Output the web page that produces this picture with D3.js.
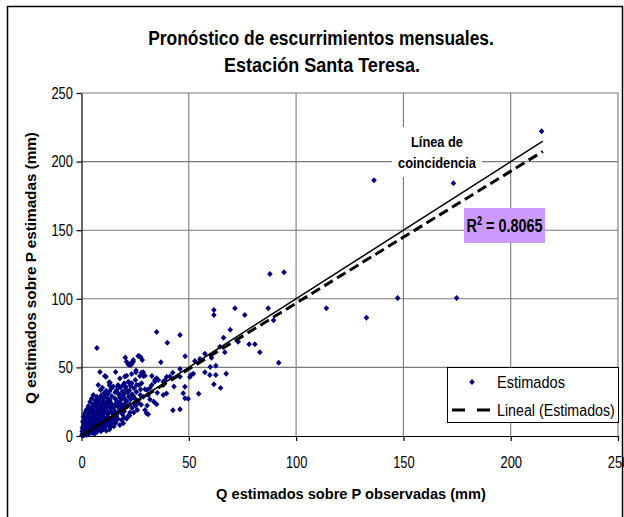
<!DOCTYPE html>
<html lang="es">
  <head>
    <meta charset="UTF-8" />
    <title>Pronóstico de escurrimientos mensuales</title>
    <script src="https://d3js.org/d3.v7.min.js"></script>
    <style>
      body {
        margin: 0;
        background: #fff;
      }
      text {
        font-family: "Liberation Sans", Arial, sans-serif;
        fill: #000;
      }
      .grid line {
        stroke: #7a7a7a;
        stroke-width: 1.1px;
      }
      .axis path,
      .axis line {
        stroke: #000;
        stroke-width: 1.2px;
      }
      .punto {
        fill: #000080;
      }
    </style>
  </head>
  <body>
    <svg width="624" height="517"></svg>

    <script>
      const titulo = ["Pronóstico de escurrimientos mensuales.", "Estación Santa Teresa."];
      const tituloX = "Q estimados sobre P observadas (mm)";
      const tituloY = "Q estimados sobre P estimadas (mm)";
      const xTicks = [0, 50, 100, 150, 200, 250];
      const yTicks = [0, 50, 100, 150, 200, 250];

      // [Q obs, Q est]
      const puntosAltos = [
        [136.3, 186.4], [173.3, 184.2], [214.4, 222.1], [87.8, 118.1], [94.4, 119.3],
        [114.1, 93.1], [132.8, 86.2], [147.3, 100.6], [174.8, 100.6], [91.9, 53.4],
        [87.0, 93.1], [89.5, 84.3], [76.1, 88.2], [71.5, 93.1], [61.7, 91.8],
        [61.7, 88.2], [69.3, 77.5], [66.2, 71.6], [73.0, 68.7], [78.1, 66.8],
        [80.8, 66.8], [83.1, 61.0], [66.8, 61.0], [48.3, 58.1], [60.6, 57.1],
        [57.5, 60.0], [55.2, 56.1], [52.8, 54.7], [60.0, 50.3], [62.6, 51.2],
        [57.5, 46.4], [59.8, 44.5], [62.6, 44.5], [67.4, 45.4], [61.7, 37.7],
        [64.8, 35.0], [54.6, 30.8], [51.0, 44.5], [52.1, 45.4], [50.5, 43.0],
        [49.7, 27.2], [47.4, 31.1], [45.9, 19.5], [45.9, 73.6], [45.9, 43.2],
        [64.5, 65.1]
      ];

      const puntosMedios = [
        [7.2, 64.1], [35.0, 75.8], [40.0, 68.0], [20.4, 57.3], [21.0, 54.2],
        [21.8, 52.2], [23.0, 52.9], [24.1, 55.4], [26.8, 58.3], [28.3, 55.4],
        [37.0, 53.7], [8.6, 46.6], [15.9, 46.6], [10.9, 43.7], [7.8, 37.1],
        [9.7, 35.2], [13.3, 38.9], [13.0, 37.0], [14.8, 36.0], [17.9, 42.0],
        [20.2, 43.3], [21.8, 39.6], [23.4, 45.2], [25.4, 47.7], [28.0, 46.2],
        [28.8, 43.8], [27.2, 43.8], [25.1, 40.9], [22.9, 36.5], [19.5, 37.1],
        [17.0, 37.1], [26.9, 37.1], [29.6, 34.0], [30.6, 33.5], [31.9, 35.0],
        [34.2, 40.9], [35.0, 42.1], [32.8, 43.8], [38.1, 37.1], [39.6, 31.0],
        [35.3, 31.5], [31.9, 26.6], [33.7, 24.9], [35.0, 23.2], [30.6, 22.3],
        [30.3, 16.5], [26.0, 18.9], [24.4, 17.2], [21.8, 14.8], [18.7, 11.7],
        [19.5, 9.3], [17.9, 8.1], [42.6, 18.7], [43.1, 36.1], [41.2, 43.3],
        [38.9, 40.9], [31.1, 29.8], [28.8, 28.6], [26.5, 24.2], [24.4, 23.7],
        [22.6, 23.2], [20.1, 23.7], [17.1, 31.0], [15.6, 27.4], [13.3, 26.2],
        [11.7, 25.0], [10.9, 28.6], [8.9, 33.5], [7.1, 28.6], [5.5, 29.8],
        [4.7, 27.4], [4.0, 25.0], [3.2, 21.9], [2.4, 19.4], [1.6, 16.5],
        [0.9, 14.1], [0.6, 10.4], [22.6, 51.7], [23.8, 54.2], [11.4, 43.2],
        [21.0, 43.9], [12.9, 39.1], [16.9, 35.9], [19.9, 38.4], [20.7, 35.9],
        [22.3, 38.8], [26.4, 58.3], [27.6, 57.4], [24.1, 54.2], [23.4, 52.3],
        [25.4, 46.4], [28.8, 46.4], [29.6, 43.9], [45.9, 48.8], [23.4, 38.4],
        [25.7, 37.2], [28.0, 38.4], [34.2, 39.6], [32.7, 37.2], [35.8, 40.8],
        [39.7, 43.2], [42.5, 46.1], [48.2, 35.9], [38.1, 39.6], [38.1, 29.9],
        [48.2, 27.5], [29.6, 19.0], [31.1, 15.8]
      ];

      const puntosBajos = [
        [0.2, 0.5], [0.5, 1.8], [0.8, 0.3], [1.2, 2.5], [1.5, 1.0], [2.0, 3.2],
        [2.3, 0.8], [2.8, 2.0], [3.1, 4.1], [3.5, 1.5], [4.0, 3.0], [4.4, 4.8],
        [5.0, 2.2], [5.5, 3.9], [6.1, 1.6], [6.6, 4.4], [7.2, 2.9], [8.0, 4.6],
        [9.1, 3.4], [10.2, 4.9], [0.3, 3.5], [0.7, 4.6], [1.7, 4.2], [11.5, 3.8],
        [13.0, 4.7],
        [0.4, 6.0], [0.9, 7.5], [1.4, 5.6], [1.9, 8.8], [2.5, 6.4], [3.0, 7.9],
        [3.6, 9.5], [4.2, 6.1], [4.8, 8.3], [5.3, 9.9], [5.9, 7.0], [6.4, 5.4],
        [7.0, 8.9], [7.6, 6.6], [8.3, 9.7], [8.9, 7.4], [9.6, 5.8], [10.3, 8.6],
        [11.0, 6.9], [11.8, 9.3], [12.5, 7.7], [13.4, 6.2], [14.2, 8.8], [15.1, 7.1],
        [16.0, 9.6],
        [1.3, 11.2], [1.8, 13.0], [2.4, 10.6], [2.9, 14.5], [3.4, 12.1], [4.0, 10.3],
        [4.6, 13.6], [5.1, 11.5], [5.7, 14.8], [6.3, 12.4], [6.8, 10.8], [7.5, 13.9],
        [8.1, 11.7], [8.7, 14.6], [9.4, 12.8], [10.0, 10.5], [10.7, 13.3], [11.4, 11.1],
        [12.1, 14.2], [12.9, 12.0], [13.6, 10.2], [14.4, 13.1], [15.2, 11.4], [16.1, 14.0],
        [17.0, 12.3], [19.8, 13.5], [21.0, 12.6], [22.4, 14.9],
        [2.1, 18.3], [3.0, 15.8], [3.7, 17.6], [4.3, 19.7], [4.9, 16.2], [5.6, 18.5],
        [6.2, 15.4], [6.9, 17.2], [7.4, 19.3], [8.2, 16.0], [8.8, 18.1], [9.5, 15.5],
        [10.1, 19.0], [10.8, 16.8], [11.6, 18.6], [12.3, 15.9], [13.1, 17.9], [13.9, 19.8],
        [14.6, 16.4], [15.5, 18.2], [16.3, 15.3], [17.2, 17.5], [18.1, 19.4], [19.0, 16.1],
        [19.9, 18.0], [22.6, 17.2],
        [4.7, 20.6], [5.4, 23.1], [6.0, 21.2], [6.7, 24.3], [7.3, 22.0], [8.0, 20.4],
        [8.6, 23.6], [9.3, 21.5], [9.9, 24.7], [10.6, 22.4], [11.3, 20.2], [11.9, 23.9],
        [12.7, 21.7], [13.5, 24.5], [14.3, 22.8], [15.0, 20.7], [15.9, 23.4], [16.8, 21.3],
        [17.6, 24.1], [18.5, 22.2], [19.3, 20.3], [20.1, 21.1], [21.2, 21.6], [23.5, 20.4],
        [25.2, 21.8], [27.8, 22.7],
        [6.4, 26.1], [7.8, 25.6], [8.5, 27.9], [9.2, 29.5], [9.9, 26.5], [12.4, 27.2],
        [14.1, 29.1], [16.4, 25.7], [17.8, 28.2], [18.6, 26.4], [19.4, 29.6], [20.3, 27.0],
        [21.1, 25.3], [22.0, 28.8], [23.0, 26.7], [24.1, 29.4], [25.0, 27.1], [26.2, 25.6],
        [27.4, 29.9],
        [10.6, 31.4], [11.5, 33.0], [12.2, 30.6], [13.0, 32.4], [13.9, 34.6], [15.7, 31.9],
        [16.5, 33.8], [17.3, 30.5], [18.2, 35.4], [19.0, 32.2], [19.8, 30.8], [20.6, 34.1],
        [21.5, 31.6], [22.3, 33.2], [23.6, 30.4], [24.5, 34.8], [25.6, 32.0], [27.5, 33.9]
      ];

      const estimados = puntosAltos.concat(puntosMedios, puntosBajos);

      // línea de tendencia (Excel) y de coincidencia
      const pendiente = 0.962;
      const intercepto = 0.6;
      const r2 = "0.8065";
      const xFin = 215;

      const svg = d3.select("svg");

      const x = d3.scaleLinear().domain([0, 250]).range([81.5, 618]);
      const y = d3.scaleLinear().domain([0, 250]).range([436, 93]);

      // texto comprimido horizontalmente (como en el original)
      function etiqueta(g, px, py, str, size, weight, ancho, anchor, rot) {
        const t = g
          .append("text")
          .style("font-size", size + "px")
          .style("font-weight", weight)
          .attr("text-anchor", anchor || "middle")
          .text(str);
        const sx = ancho / t.node().getComputedTextLength();
        t.attr(
          "transform",
          `translate(${px},${py}) rotate(${rot || 0}) scale(${sx},1)`
        );
        return t;
      }

      // marco exterior
      svg
        .append("rect")
        .attr("x", 7.5)
        .attr("y", 6.5)
        .attr("width", 615)
        .attr("height", 540)
        .attr("fill", "none")
        .attr("stroke", "#000")
        .attr("stroke-width", 1.5);

      // título
      etiqueta(svg, 321, 45, titulo[0], 19.5, "bold", 346);
      etiqueta(svg, 322, 72, titulo[1], 19.5, "bold", 196);

      // rejilla
      const grid = svg.append("g").attr("class", "grid");
      grid
        .selectAll(".gx")
        .data(xTicks.slice(1))
        .enter()
        .append("line")
        .attr("x1", (d) => x(d))
        .attr("x2", (d) => x(d))
        .attr("y1", y(0))
        .attr("y2", y(250));
      grid
        .selectAll(".gy")
        .data(yTicks.slice(1))
        .enter()
        .append("line")
        .attr("x1", x(0))
        .attr("x2", x(250))
        .attr("y1", (d) => y(d))
        .attr("y2", (d) => y(d));

      // ejes
      const ejeX = svg
        .append("g")
        .attr("class", "axis")
        .attr("transform", `translate(0,${y(0)})`)
        .call(d3.axisBottom(x).tickValues(xTicks).tickSize(5).tickPadding(15).tickSizeOuter(0));
      const ejeY = svg
        .append("g")
        .attr("class", "axis")
        .attr("transform", `translate(${x(0)},0)`)
        .call(d3.axisLeft(y).tickValues(yTicks).tickSize(5).tickPadding(6).tickSizeOuter(0));

      svg
        .selectAll(".axis text")
        .style("font-size", "16.5px")
        .style("font-family", '"Liberation Sans", Arial, sans-serif')
        .attr("fill", "#000");
      ejeX.selectAll("text").attr("transform", "scale(0.78,1)");
      ejeY.selectAll("text").attr("transform", "scale(0.78,1)");

      etiqueta(svg, 351, 499, tituloX, 15.5, "bold", 270);
      etiqueta(svg, 36, 268, tituloY, 15.5, "bold", 272, "middle", -90);

      // puntos
      const diamante = "M0,-3L2.8,0L0,3L-2.8,0Z";
      svg
        .append("g")
        .selectAll("path")
        .data(estimados)
        .enter()
        .append("path")
        .attr("class", "punto")
        .attr("d", diamante)
        .attr("transform", (d) => `translate(${x(d[0])},${y(d[1])})`);

      // línea de coincidencia
      svg
        .append("line")
        .attr("x1", x(0))
        .attr("y1", y(0))
        .attr("x2", x(xFin))
        .attr("y2", y(xFin))
        .attr("stroke", "#000")
        .attr("stroke-width", 1.5);

      // tendencia lineal
      svg
        .append("line")
        .attr("x1", x(0))
        .attr("y1", y(intercepto))
        .attr("x2", x(xFin))
        .attr("y2", y(pendiente * xFin + intercepto))
        .attr("stroke", "#000")
        .attr("stroke-width", 3)
        .attr("stroke-dasharray", "10,5");

      // etiqueta línea de coincidencia
      svg
        .append("rect")
        .attr("x", 392)
        .attr("y", 127)
        .attr("width", 90)
        .attr("height", 50)
        .attr("fill", "#fff");
      etiqueta(svg, 437, 147, "Línea de", 15, "bold", 52);
      etiqueta(svg, 437, 168, "coincidencia", 15, "bold", 78);

      // R²
      svg
        .append("rect")
        .attr("x", 464)
        .attr("y", 208)
        .attr("width", 81)
        .attr("height", 35)
        .attr("fill", "#cc99ff");
      const tr = svg
        .append("text")
        .style("font-size", "18.5px")
        .style("font-weight", "bold")
        .attr("text-anchor", "middle");
      tr.append("tspan").text("R");
      tr.append("tspan").attr("dy", -7).style("font-size", "12px").text("2");
      tr.append("tspan").attr("dy", 7).text(" = " + r2);
      const sxR = 76 / tr.node().getComputedTextLength();
      tr.attr("transform", `translate(504.5,232) scale(${sxR},1)`);

      // leyenda
      const ley = svg.append("g");
      ley
        .append("rect")
        .attr("x", 447.5)
        .attr("y", 367.5)
        .attr("width", 171)
        .attr("height", 55)
        .attr("fill", "#fff")
        .attr("stroke", "#000")
        .attr("stroke-width", 1);
      ley
        .append("path")
        .attr("class", "punto")
        .attr("d", diamante)
        .attr("transform", "translate(472,382)");
      ley
        .append("line")
        .attr("x1", 452)
        .attr("x2", 492)
        .attr("y1", 410)
        .attr("y2", 410)
        .attr("stroke", "#000")
        .attr("stroke-width", 3)
        .attr("stroke-dasharray", "13,12");
      etiqueta(ley, 497, 388, "Estimados", 16, "normal", 68, "start");
      etiqueta(ley, 497, 416, "Lineal (Estimados)", 16, "normal", 118, "start");
    </script>
  </body>
</html>
